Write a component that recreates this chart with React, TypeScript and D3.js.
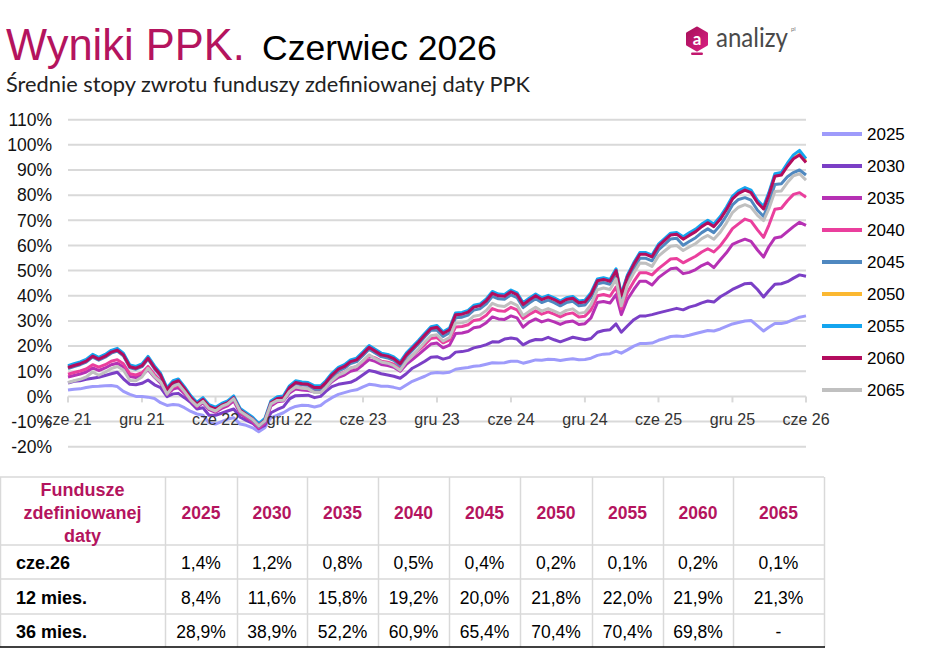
import React from "react";
import * as d3 from "d3";

// fund names and their line colours
const FUNDS = ["2025", "2030", "2035", "2040", "2045", "2050", "2055", "2060", "2065"];
const COLORS = ["#9e9bfb", "#7b3fc6", "#b631b4", "#ea3f9d", "#4f88c0", "#fbb831", "#14a5ef", "#b30c5e", "#c0c0c0"];

// cumulative return (%) at half-month steps, June 2021 .. June 2026
const r2025 = [
  2.5, 2.8, 3, 3.5, 3.9, 4, 4.2, 4.3, 3.9, 2,
  0.8, 0, 0, -0.3, -0.8, -2.5, -3.6, -3.2, -3.4, -4.5,
  -6, -7, -7.5, -10.5, -11, -10, -9, -8.5, -11, -11.5,
  -12.5, -14, -12.5, -8.5, -7.5, -6.5, -5, -4, -3.5, -3.6,
  -4.2, -3.6, -2, -0.5, 0.8, 1.5, 2.2, 2.6, 3.8, 4.8,
  4.5, 4, 4, 3.6, 3, 4.5, 6, 7, 8, 9.2,
  9.5, 9.3, 9.6, 10.8, 11.2, 11.5, 12, 12.2, 12.8, 13.4,
  13.3, 13.4, 14, 14, 13.2, 13.8, 14.5, 14.4, 14.8, 14.7,
  14.3, 14.7, 15, 14.6, 14.7, 15.2, 16.3, 16.8, 17, 18,
  17.2, 18.5, 20, 21, 21, 21.2, 22.3, 23, 23.8, 24,
  23.8, 24.3, 25, 25.6, 26.2, 26, 26.8, 27.8, 28.8, 29.4,
  30, 30.2, 28, 26, 27.5, 29, 29, 29.5, 30.5, 31.5,
  32,
];
const r2030 = [
  5.3, 6, 6.2, 6.8, 7.2, 7.6, 8.3, 9, 9.6, 7,
  4.8, 4.6, 5.2, 6.5, 4.6, 3.5, -0.1, 1, 1.2, -0.5,
  -2.5, -5, -4.5, -7.5, -7.5, -6.7, -5.8, -5, -8.3, -9.5,
  -10.7, -12.7, -11.5, -6.5, -5.2, -4.2, -1, 0.3, 0.4, 0.5,
  -0.5, 0, 2, 3.9, 4.8, 5.2, 5.6, 6.8, 8.6, 10.3,
  9.8, 9, 8.5, 8, 7.2, 9, 11.2, 12.5, 14, 15.6,
  15.8, 14.8, 15.5, 17.6, 17.8, 18.3, 19.3, 19.8, 20.6, 21.7,
  21.6, 22.8, 23.2, 22.8, 20.5, 21.8, 22.6, 22.5, 23.5, 22.5,
  21.7, 22.6, 23.5, 23, 22.5, 23, 25.5, 26.2, 26.5, 28.8,
  25.5, 28, 30.5, 32, 32, 32.5, 33.2, 33.8, 34.4, 35,
  34.4, 35.5, 36.2, 37.2, 37.9, 37.5, 39.6, 41, 42.5, 43.6,
  44.8, 45, 42.5, 39.5, 42, 44.6, 44.8, 45.6, 47, 48.3,
  47.8,
];
const r2035 = [
  7.7, 8.3, 8.9, 9.7, 11.3, 10.3, 11.3, 12.6, 13.2, 11.7,
  7.9, 7.5, 8.3, 10.7, 7.6, 5.3, 0.7, 2.9, 3.5, 1.1,
  -1.8, -4.3, -2.5, -5.3, -6.3, -4.8, -3.8, -1.8, -6.8, -8.5,
  -10.3, -12.8, -10.8, -3.8, -2.1, -1.8, 1.3, 2.9, 2.5, 2.3,
  1.8, 1.8, 3.4, 5.8, 7.6, 8.5, 10, 10.6, 12.6, 14.6,
  13.9, 12.7, 12.3, 11.6, 10, 12.7, 14.6, 16.6, 18.8, 20.8,
  21.2, 19.3, 20.4, 25, 25.2, 25.8, 27.3, 27.7, 29.3, 31.6,
  30.8, 30.6, 32, 31.2, 27.5, 29.5, 30.8, 29.6, 30.4, 29.6,
  28.6, 29.6, 30, 28.6, 28.9, 31.2, 37.3, 37.7, 37.1, 40.5,
  32.5, 38.5, 42.5, 45.8, 45.8, 44.3, 47.2, 49, 50.7, 51,
  48.8, 49.3, 50.4, 52, 53.1, 51.2, 54.3, 57.1, 60.4, 61.5,
  62.5, 61.6, 58.2, 55.4, 59.5, 63, 63.5, 65.5, 67.5, 69.2,
  68,
];
const r2040 = [
  8.8, 9.5, 10.1, 10.9, 12.6, 11.6, 12.6, 14, 14.6, 13,
  9, 8.5, 9.4, 11.9, 8.7, 6.2, 1.3, 3.7, 4.3, 1.7,
  -1.3, -3.8, -2, -4.8, -5.8, -4.3, -3.3, -1.3, -6.3, -8,
  -9.8, -12.3, -10.3, -3.3, -1.6, -1.3, 2, 3.7, 3.3, 3.1,
  2.5, 2.5, 4.2, 6.7, 8.7, 9.6, 11.2, 11.8, 14, 16.1,
  15.3, 14, 13.6, 12.8, 11.1, 14, 16.2, 18.3, 20.7, 23,
  23.4, 21.3, 22.5, 27.6, 27.8, 28.5, 30.2, 30.6, 32.3, 34.9,
  34, 33.8, 35.4, 34.4, 31, 32.6, 34, 32.7, 33.6, 32.7,
  31.6, 32.7, 33.2, 31.6, 31.9, 34.4, 40, 40.5, 39.8, 43.5,
  34.8, 41.3, 45.7, 49.2, 49.2, 48.3, 50.8, 52.7, 54.6, 54.8,
  53.1, 54.4, 55.7, 57.4, 58.7, 57.4, 59.9, 63.1, 66.7, 68.6,
  70.5, 69.7, 66.2, 63.2, 68, 74.4, 74.8, 77.8, 80.3, 81,
  79.2,
];
const r2045 = [
  11.1, 11.9, 12.6, 13.6, 15.6, 14.4, 15.6, 17.2, 18, 16.1,
  11.4, 10.8, 11.8, 14.8, 11, 8.1, 2.3, 5.1, 5.8, 2.8,
  -0.9, -3.4, -1.6, -4.4, -5.4, -3.9, -2.9, -0.9, -5.9, -7.6,
  -9.4, -11.9, -9.9, -2.9, -1.2, -0.9, 3.1, 5.1, 4.6, 4.4,
  2.8, 2.8, 4.8, 7.8, 10.1, 11.2, 13.1, 13.8, 16.3, 18.8,
  17.3, 15.8, 15.3, 14.3, 12.3, 15.8, 18.3, 20.8, 23.7, 26.3,
  26.3, 23.8, 25.3, 31.3, 31.5, 32.3, 34.3, 34.8, 36.8, 39.8,
  38.8, 38.6, 40.4, 39.3, 35.3, 37.1, 38.8, 37.3, 38.3, 37.3,
  36, 37.3, 37.8, 36, 36.3, 39.3, 44.8, 45.3, 44.6, 48.8,
  38.4, 45.9, 50.9, 54.9, 54.9, 53.9, 58.2, 60.4, 62.6, 62.9,
  60.1, 61.6, 63.1, 65.1, 66.6, 65.1, 68.1, 71.8, 76.1, 78.3,
  79, 78, 74, 71.5, 77, 84.2, 84.5, 87.3, 89, 90,
  88,
];
const r2050 = [
  11.8, 12.6, 13.3, 14.3, 16.3, 15.1, 16.3, 17.9, 18.7, 16.8,
  12.1, 11.5, 12.5, 15.5, 11.7, 8.8, 3, 5.8, 6.5, 3.5,
  -0.2, -2.7, -0.9, -3.7, -4.7, -3.2, -2.2, -0.2, -5.2, -6.9,
  -8.7, -11.2, -9.2, -2.2, -0.5, -0.2, 3.8, 5.8, 5.3, 5.1,
  3.8, 3.8, 5.8, 8.8, 11.1, 12.2, 14.1, 14.8, 17.3, 19.8,
  18.3, 16.8, 16.3, 15.3, 13.3, 16.8, 19.3, 21.8, 24.7, 27.3,
  27.8, 25.3, 26.8, 32.8, 33, 33.8, 35.8, 36.3, 38.3, 41.3,
  40.3, 40.1, 41.9, 40.8, 36.8, 38.6, 40.3, 38.8, 39.8, 38.8,
  37.5, 38.8, 39.3, 37.5, 37.8, 40.8, 46.3, 46.8, 46.1, 50.3,
  40.3, 47.8, 52.8, 56.8, 56.8, 55.8, 60.1, 62.3, 64.5, 64.8,
  62.8, 64.3, 65.8, 67.8, 69.3, 67.8, 70.8, 74.5, 78.8, 81,
  82.3, 81.3, 77.3, 74.8, 80.3, 87.8, 88.3, 91.8, 94.8, 96.3,
  93.5,
];
const r2055 = [
  12.2, 13, 13.7, 14.7, 16.7, 15.5, 16.7, 18.3, 19.1, 17.2,
  12.5, 11.9, 12.9, 15.9, 12.1, 9.2, 3.4, 6.2, 6.9, 3.9,
  0.2, -2.3, -0.5, -3.3, -4.3, -2.8, -1.8, 0.2, -4.8, -6.5,
  -8.3, -10.8, -8.8, -1.8, -0.1, 0.2, 4.2, 6.2, 5.7, 5.5,
  4.2, 4.2, 6.2, 9.2, 11.5, 12.6, 14.5, 15.2, 17.7, 20.2,
  18.7, 17.2, 16.7, 15.7, 13.7, 17.2, 19.7, 22.2, 25.1, 27.7,
  28.2, 25.7, 27.2, 33.2, 33.4, 34.2, 36.2, 36.7, 38.7, 41.7,
  40.7, 40.5, 42.3, 41.2, 37.2, 39, 40.7, 39.2, 40.2, 39.2,
  37.9, 39.2, 39.7, 37.9, 38.2, 41.2, 46.7, 47.2, 46.5, 50.7,
  40.7, 48.2, 53.2, 57.2, 57.2, 56.2, 60.5, 62.7, 64.9, 65.2,
  63.5, 65, 66.5, 68.5, 70, 68.5, 71.5, 75.2, 79.5, 81.7,
  83, 82, 78, 75.5, 81, 88.5, 89, 92.7, 96, 97.8,
  94.5,
];
const r2060 = [
  11.5, 12.3, 13, 14, 16, 14.8, 16, 17.6, 18.4, 16.5,
  11.8, 11.2, 12.2, 15.2, 11.4, 8.5, 2.7, 5.5, 6.2, 3.2,
  -0.5, -3, -1.2, -4, -5, -3.5, -2.5, -0.5, -5.5, -7.2,
  -9, -11.5, -9.5, -2.5, -0.8, -0.5, 3.5, 5.5, 5, 4.8,
  3.5, 3.5, 5.5, 8.5, 10.8, 11.9, 13.8, 14.5, 17, 19.5,
  18, 16.5, 16, 15, 13, 16.5, 19, 21.5, 24.4, 27,
  27.5, 25, 26.5, 32.5, 32.7, 33.5, 35.5, 36, 38, 41,
  40, 39.8, 41.6, 40.5, 36.5, 38.3, 40, 38.5, 39.5, 38.5,
  37.2, 38.5, 39, 37.2, 37.5, 40.5, 46, 46.5, 45.8, 50,
  40, 47.5, 52.5, 56.5, 56.5, 55.5, 59.8, 62, 64.2, 64.5,
  62.5, 64, 65.5, 67.5, 69, 67.5, 70.5, 74.2, 78.5, 80.7,
  82, 81, 77, 74.5, 80, 87.5, 88, 91.5, 94.5, 96,
  93,
];
const r2065 = [
  5.5, 6.2, 6.8, 7.7, 9.7, 8.4, 9.6, 11.1, 11.9, 10.5,
  6.3, 6.2, 7.7, 11.2, 7.9, 5.8, 0.9, 4, 4.9, 2,
  -1.5, -3.8, -2, -4.8, -5.8, -4, -3, -0.9, -5.9, -7.5,
  -9.2, -11.7, -9.7, -3, -1.6, -1.5, 2, 3.7, 3.2, 3,
  1.5, 1.5, 3.5, 6.3, 8.5, 9.5, 11.3, 11.9, 14.2, 16.5,
  15, 13.7, 13.2, 12.2, 10.4, 13.8, 16.2, 18.7, 21.6, 24.1,
  24.5, 22, 23.4, 29.2, 29.3, 30, 31.9, 32.3, 34.2, 37,
  36, 35.7, 37.4, 36.2, 32.1, 33.8, 35.4, 33.9, 34.9, 33.9,
  32.8, 34.2, 34.8, 33, 33.4, 36.5, 42.4, 43.1, 42.5, 46.7,
  36, 44.2, 49.1, 53, 52.9, 51.7, 55.8, 57.8, 59.7, 60,
  58, 59.4, 60.8, 62.7, 64, 62.5, 65.3, 68.9, 73.1, 75.2,
  76.2, 75.2, 72, 69.9, 74.5, 81.5, 81.7, 85, 87.7, 88.5,
  86,
];
const SERIES = [r2025, r2030, r2035, r2040, r2045, r2050, r2055, r2060, r2065];

// observation dates: 1st and 16th of every month
const DATES = d3.range(r2060.length).map(
  (i) => new Date(2021, 5 + Math.floor(i / 2), i % 2 ? 16 : 1)
);

const Y_TICKS = d3.range(-20, 111, 10);
const X_TICKS = d3.range(11).map((i) => new Date(2021, 5 + 6 * i, 1));

// summary table
const TABLE_HEAD = ["Fundusze", "zdefiniowanej", "daty"];
const ROW_LABELS = ["cze.26", "12 mies.", "36 mies."];
const ROW_MONTH = ["1,4%", "1,2%", "0,8%", "0,5%", "0,4%", "0,2%", "0,1%", "0,2%", "0,1%"];
const ROW_12M = ["8,4%", "11,6%", "15,8%", "19,2%", "20,0%", "21,8%", "22,0%", "21,9%", "21,3%"];
const ROW_36M = ["28,9%", "38,9%", "52,2%", "60,9%", "65,4%", "70,4%", "70,4%", "69,8%", "-"];
const ROWS = [ROW_MONTH, ROW_12M, ROW_36M];

const CRIMSON = "#b4145e";
const FONT = "'Liberation Sans', Arial, sans-serif";

const monthLabel = (d: Date) =>
  `${d.getMonth() === 5 ? "cze" : "gru"} ${d3.timeFormat("%y")(d)}`;

function Chart() {
  const x = d3
    .scaleTime()
    .domain([new Date(2021, 5, 1), new Date(2026, 5, 1)])
    .range([68, 806]);
  const y = d3.scaleLinear().domain([-20, 110]).range([446.7, 119.7]);
  const line = d3
    .line<number>()
    .x((_, i) => x(DATES[i]))
    .y((v) => y(v));

  return (
    <g fontFamily={FONT}>
      {Y_TICKS.map((t) => (
        <line key={t} x1={68} x2={806} y1={y(t)} y2={y(t)} stroke="#d9d9d9" strokeWidth={2} />
      ))}
      {X_TICKS.map((d, i) => (
        <line key={i} x1={x(d)} x2={x(d)} y1={y(0)} y2={y(0) + 6} stroke="#d9d9d9" strokeWidth={2} />
      ))}
      {SERIES.map((s, i) => (
        <path
          key={FUNDS[i]}
          d={line(s) || ""}
          fill="none"
          stroke={COLORS[i]}
          strokeWidth={3}
          strokeLinejoin="round"
        />
      ))}
      {Y_TICKS.map((t) => (
        <text key={t} x={52} y={y(t) + 6.3} textAnchor="end" fontSize={17.5} fill="#111">
          {t}%
        </text>
      ))}
      {X_TICKS.map((d, i) => (
        <text key={i} x={x(d)} y={425} textAnchor="middle" fontSize={16} fill="#333">
          {monthLabel(d)}
        </text>
      ))}
      {FUNDS.map((f, i) => (
        <g key={f} transform={`translate(822,${134 + 32 * i})`}>
          <line x1={0} x2={40} stroke={COLORS[i]} strokeWidth={4} />
          <text x={45} y={6} fontSize={17} fill="#000">
            {f}
          </text>
        </g>
      ))}
    </g>
  );
}

function Table() {
  const cols = [0, 165, 237, 307, 378, 449, 520, 592, 663, 733, 824];
  const rowLines = [477, 545, 579, 614];
  const baselines = [569, 603.5, 637.5];
  const mid = (i: number) => (cols[i] + cols[i + 1]) / 2;
  return (
    <g fontFamily={FONT}>
      {rowLines.map((r) => (
        <line key={r} x1={0} x2={824} y1={r} y2={r} stroke="#d9d9d9" strokeWidth={1.5} />
      ))}
      {cols.map((c) => (
        <line key={c} x1={c + 0.5} x2={c + 0.5} y1={477} y2={647} stroke="#d9d9d9" strokeWidth={1.5} />
      ))}
      <line x1={0} x2={825} y1={647} y2={647} stroke="#000" strokeWidth={1.5} />
      {TABLE_HEAD.map((t, i) => (
        <text key={t} x={mid(0)} y={495.5 + 23 * i} textAnchor="middle" fontSize={18} fontWeight="bold" fill={CRIMSON}>
          {t}
        </text>
      ))}
      {FUNDS.map((f, i) => (
        <text key={f} x={mid(i + 1)} y={518.5} textAnchor="middle" fontSize={17.5} fontWeight="bold" fill={CRIMSON}>
          {f}
        </text>
      ))}
      {ROW_LABELS.map((r, j) => (
        <g key={r}>
          <text x={16} y={baselines[j]} fontSize={18} fontWeight="bold" fill="#000">
            {r}
          </text>
          {ROWS[j].map((v, i) => (
            <text key={i} x={mid(i + 1)} y={baselines[j]} textAnchor="middle" fontSize={17.5} fill="#000">
              {v}
            </text>
          ))}
        </g>
      ))}
    </g>
  );
}

function Logo() {
  return (
    <g transform="translate(687,27)">
      <defs>
        <linearGradient id="logoGrad" x1="0" y1="0" x2="1" y2="1">
          <stop offset="0" stopColor="#a8105a" />
          <stop offset="1" stopColor="#d81f82" />
        </linearGradient>
      </defs>
      <path
        d="M10,1 L19.5,6.5 L19.5,17.5 L10,23 L0.5,17.5 L0.5,6.5 Z"
        fill="url(#logoGrad)"
        stroke="url(#logoGrad)"
        strokeWidth={3}
        strokeLinejoin="round"
      />
      <rect x={4} y={25.5} width={12} height={2.5} rx={1.2} fill="#c2186e" />
      <text x={10} y={18} textAnchor="middle" fontSize={17} fontWeight="bold" fill="#fff" fontFamily="Lato, sans-serif">
        a
      </text>
      <text x={29} y={20} fontSize={26} fill="#4a4a4a" fontFamily="Lato, sans-serif" textLength={72} lengthAdjust="spacingAndGlyphs">
        analizy
      </text>
      <text x={104} y={4} fontSize={6} fill="#777" fontFamily="Lato, sans-serif">
        pl
      </text>
    </g>
  );
}

export default function App() {
  return (
    <svg
      width={940}
      height={648}
      viewBox="0 0 940 648"
      style={{ position: "absolute", left: 0, top: 0, background: "#fff" }}
    >
      <rect width={940} height={648} fill="#fff" />
      <text x={6} y={60} fontFamily={FONT}>
        <tspan fontSize={43.5} fill={CRIMSON}>
          Wyniki PPK.
        </tspan>
        <tspan x={262} fontSize={35.5} fill="#000">
          Czerwiec 2026
        </tspan>
      </text>
      <text
        x={6}
        y={92}
        fontFamily="Lato, sans-serif"
        fontSize={21}
        fill="#222"
        textLength={524}
        lengthAdjust="spacingAndGlyphs"
      >
        Średnie stopy zwrotu funduszy zdefiniowanej daty PPK
      </text>
      <Logo />
      <Chart />
      <Table />
    </svg>
  );
}
